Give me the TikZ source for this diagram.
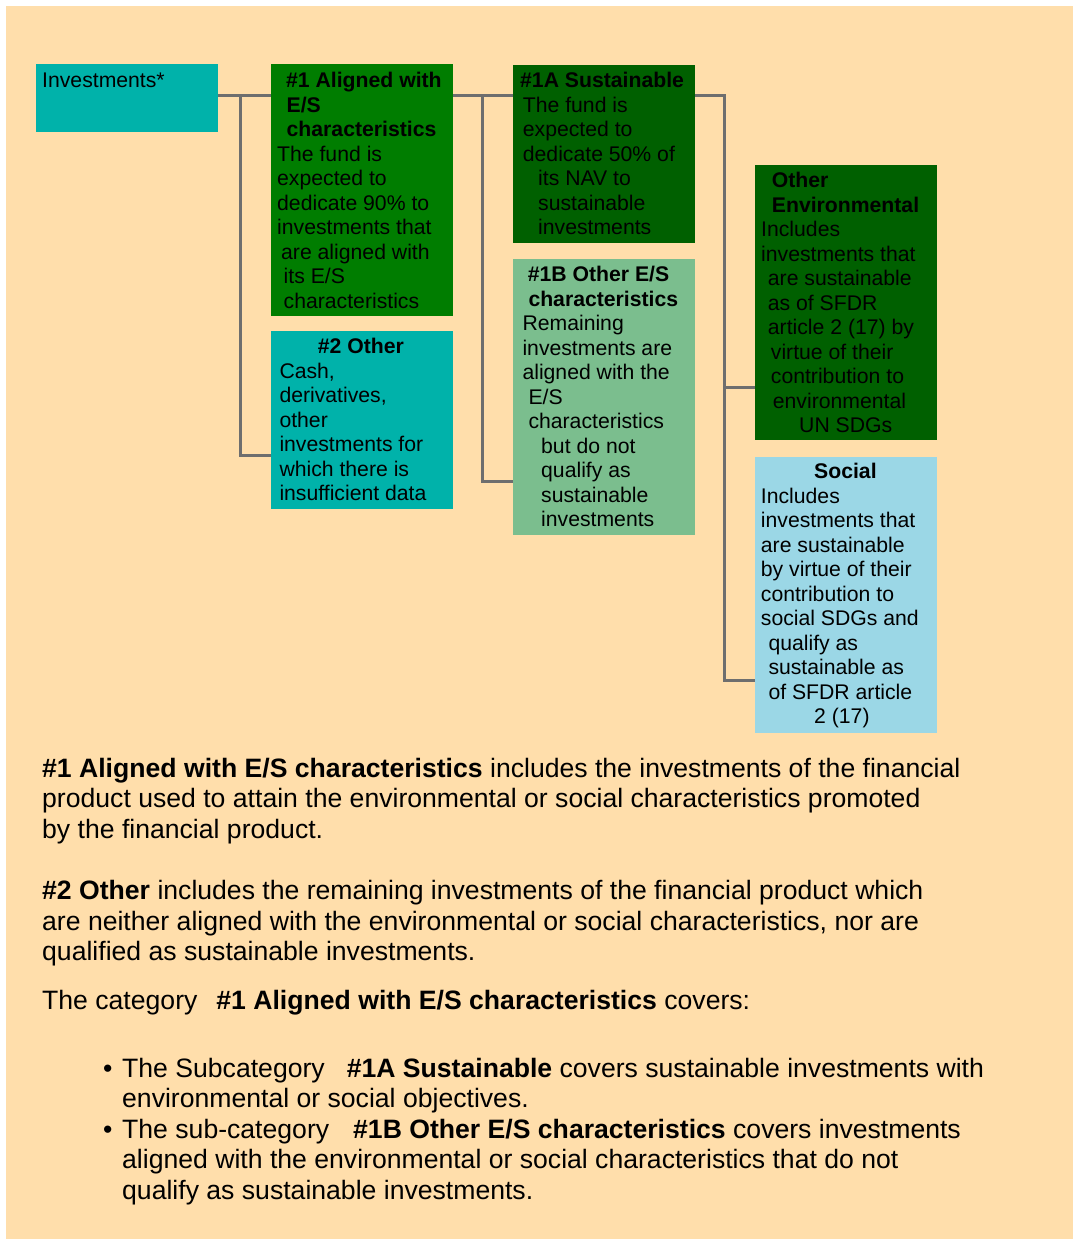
\documentclass[tikz,border=0pt]{standalone}
\usepackage{fontspec}
\setmainfont{Liberation Sans}
\definecolor{bg}{HTML}{FFDEAB}
\definecolor{tealbox}{HTML}{00B2AA}
\definecolor{greenbox}{HTML}{007D00}
\definecolor{darkgreen}{HTML}{006000}
\definecolor{lightgreen}{HTML}{7BBE8E}
\definecolor{lightblue}{HTML}{9BD7E6}
\definecolor{conncol}{HTML}{6E6E6E}
\tikzset{
  boxnode/.style={rectangle, inner sep=0pt, outer sep=0pt, anchor=north west, fill=#1},
  boxtext/.style={inner sep=0pt, anchor=north west, align=left, text=black, font=\fontsize{21.2}{24.5}\selectfont},
  bodytext/.style={inner sep=0pt, anchor=north west, align=left, text=black, font=\fontsize{26.6}{30.3}\selectfont},
  conn/.style={draw=conncol, line width=3pt},
}
\begin{document}
\begin{tikzpicture}[x=1pt,y=-1pt]
\useasboundingbox (0,0) rectangle (1074,1239);
\fill[white] (0,0) rectangle (1074,1239);
\fill[bg] (6,6) rectangle (1073,1239);

% boxes
\node[boxnode=tealbox, minimum width=182pt, minimum height=68pt] (inv) at (36,64) {};
\node[boxnode=greenbox, minimum width=182pt, minimum height=252pt] (b1) at (271,64) {};
\node[boxnode=tealbox, minimum width=182pt, minimum height=177.5pt] (b2) at (271,331) {};
\node[boxnode=darkgreen, minimum width=182pt, minimum height=178pt] (b1a) at (513,65) {};
\node[boxnode=lightgreen, minimum width=182pt, minimum height=276pt] (b1b) at (513,259) {};
\node[boxnode=darkgreen, minimum width=182pt, minimum height=275pt] (oenv) at (755,165) {};
\node[boxnode=lightblue, minimum width=182pt, minimum height=276pt] (soc) at (755,457) {};

% box texts
\node[boxtext] (invt) at (42,70.45) {\strut Investments*};
\node[boxtext] (b1t) at (277,70.45) {\strut\hspace*{9pt}\textbf{\#1 Aligned with}\\
\hspace*{9.5pt}\textbf{E/S}\\
\hspace*{9.5pt}\textbf{characteristics}\\
The fund is\\
expected to\\
dedicate 90\% to\\
investments that\\
\hspace*{4pt}are aligned with\\
\hspace*{6.5pt}its E/S\\
\hspace*{6.5pt}characteristics};
\node[boxtext] (b2t) at (279.3,336.45) {\strut\hspace*{38.4pt}\textbf{\#2 Other}\\
Cash,\\
derivatives,\\
other\\
investments for\\
which there is\\
insufficient data};
\node[boxtext] (b1at) at (520,70.45) {\strut\textbf{\#1A Sustainable}\\
\hspace*{2.7pt}The fund is\\
\hspace*{2.7pt}expected to\\
\hspace*{2.7pt}dedicate 50\% of\\
\hspace*{18pt}its NAV to\\
\hspace*{18pt}sustainable\\
\hspace*{18pt}investments};
\node[boxtext] (b1bt) at (522.3,264.45) {\strut\hspace*{5.4pt}\textbf{\#1B Other E/S}\\
\hspace*{6pt}\textbf{characteristics}\\
Remaining\\
investments are\\
aligned with the\\
\hspace*{6pt}E/S\\
\hspace*{6pt}characteristics\\
\hspace*{18.7pt}but do not\\
\hspace*{18.7pt}qualify as\\
\hspace*{18.7pt}sustainable\\
\hspace*{18.7pt}investments};
\node[boxtext] (oenvt) at (761,170.45) {\strut\hspace*{10.7pt}\textbf{Other}\\
\hspace*{10.7pt}\textbf{Environmental}\\
Includes\\
investments that\\
\hspace*{6.7pt}are sustainable\\
\hspace*{6.7pt}as of SFDR\\
\hspace*{6.7pt}article 2 (17) by\\
\hspace*{9.7pt}virtue of their\\
\hspace*{9.7pt}contribution to\\
\hspace*{11.7pt}environmental\\
\hspace*{38pt}UN SDGs};
\node[boxtext] (soct) at (760.7,461.45) {\strut\hspace*{53.3pt}\textbf{Social}\\
Includes\\
investments that\\
are sustainable\\
by virtue of their\\
contribution to\\
social SDGs and\\
\hspace*{7.6pt}qualify as\\
\hspace*{7.6pt}sustainable as\\
\hspace*{7.6pt}of SFDR article\\
\hspace*{53.3pt}2 (17)};

% connectors
\coordinate (j1) at (240.5,95.5);
\coordinate (k2) at (240.5,455);
\coordinate (j2) at (482.5,95.5);
\coordinate (k3) at (482.5,481);
\coordinate (j3) at (724,95.5);
\coordinate (k4) at (724,387.5);
\coordinate (k5) at (724,680);
\draw[conn] (inv.east |- j1) -- (b1.west |- j1);
\draw[conn] (j1) -- (k2) -- (k2 -| b2.west);
\draw[conn] (b1.east |- j2) -- (b1a.west |- j2);
\draw[conn] (j2) -- (k3) -- (k3 -| b1b.west);
\draw[conn] (b1a.east |- j3) -- (j3) -- (k5) -- (k5 -| soc.west);
\draw[conn] (k4) -- (k4 -| oenv.west);

% explanatory text
\node[bodytext] (p1) at (42,756) {\strut\textbf{\#1 Aligned with E/S characteristics} includes the investments of the financial\\
product used to attain the environmental or social characteristics promoted\\
by the financial product.};
\node[bodytext] (p2) at (42,878.5) {\strut\textbf{\#2 Other} includes the remaining investments of the financial product which\\
are neither aligned with the environmental or social characteristics, nor are\\
qualified as sustainable investments.};
\node[bodytext] (p3) at (42,988.5) {\strut The category\hspace{19pt}\textbf{\#1 Aligned with E/S characteristics} covers:};
\node[bodytext] (p4) at (103,1056) {\strut\makebox[19pt][l]{•}The Subcategory\hspace{22pt}\textbf{\#1A Sustainable} covers sustainable investments with\\
\hspace*{19pt}environmental or social objectives.};
\node[bodytext] (p5) at (103,1117) {\strut\makebox[19pt][l]{•}The sub-category\hspace{24pt}\textbf{\#1B Other E/S characteristics} covers investments\\
\hspace*{19pt}aligned with the environmental or social characteristics that do not\\
\hspace*{19pt}qualify as sustainable investments.};
\end{tikzpicture}
\end{document}
